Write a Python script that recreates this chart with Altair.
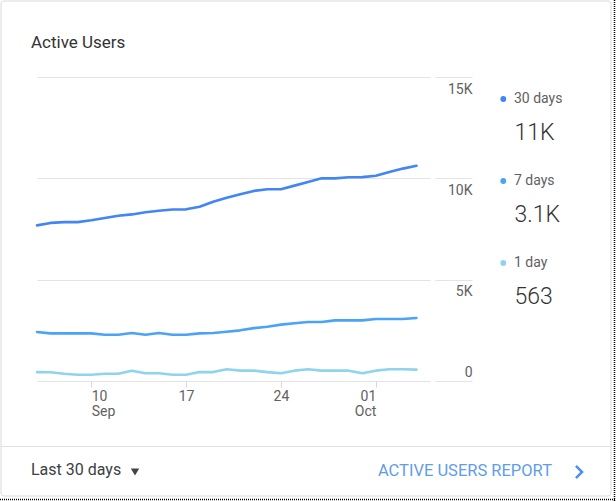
import altair as alt
import pandas as pd

# ---------------- data ----------------
dates = pd.date_range("2018-09-06", periods=29, freq="D").strftime("%Y-%m-%d").tolist()

users_30d = [7680, 7800, 7840, 7840, 7930, 8040, 8150, 8220, 8330, 8400,
             8460, 8470, 8600, 8840, 9040, 9220, 9380, 9460, 9460, 9640,
             9820, 10000, 10000, 10050, 10060, 10130, 10310, 10480, 10620]
users_7d = [2420, 2350, 2350, 2350, 2350, 2280, 2280, 2370, 2280, 2370,
            2280, 2280, 2350, 2370, 2430, 2500, 2610, 2680, 2780, 2850,
            2910, 2910, 2990, 2990, 2990, 3060, 3060, 3060, 3110]
users_1d = [440, 430, 360, 310, 310, 360, 360, 510, 380, 380,
            310, 310, 440, 440, 580, 510, 510, 440, 380, 510,
            580, 510, 510, 510, 380, 510, 580, 580, 563]

series_names = ["30 days", "7 days", "1 day"]
series_colors = ["#4285f4", "#4aa3f6", "#8fd4ee"]
legend_values = ["11K", "3.1K", "563"]
y_ticks = [0, 5000, 10000, 15000]

rows = []
for name, vals in zip(series_names, [users_30d, users_7d, users_1d]):
    for d, v in zip(dates, vals):
        rows.append({"date": d, "series": name, "users": v})
df = pd.DataFrame(rows)
legend_df = pd.DataFrame({"series": series_names, "value": legend_values})
one = pd.DataFrame({"k": [0]})

GRID = "#e3e3e3"
LABEL = "#616161"
FONT = "Roboto"

color_scale = alt.Scale(domain=series_names, range=series_colors)

x_enc = alt.X(
    "date:T",
    scale=alt.Scale(
        type="utc",
        domain=[alt.DateTime(year=2018, month=9, date=6, utc=True),
                alt.DateTime(year=2018, month=10, date=5, utc=True)],
    ),
    axis=alt.Axis(
        values=[alt.DateTime(year=2018, month=9, date=10, utc=True),
                alt.DateTime(year=2018, month=9, date=17, utc=True),
                alt.DateTime(year=2018, month=9, date=24, utc=True),
                alt.DateTime(year=2018, month=10, date=1, utc=True)],
        labelExpr="[utcFormat(datum.value, '%d'), (datum.index == 0 || utcdate(datum.value) == 1) ? utcFormat(datum.value, '%b') : '']",
        title=None, grid=False, domain=False,
        tickColor="#d9d9d9", tickSize=6, tickWidth=1,
        labelColor=LABEL, labelFontSize=14, labelFont=FONT,
        labelPadding=2, labelFlush=60, labelLineHeight=15,
        labelBaseline="top", labelOverlap=False,
    ),
)

y_enc = alt.Y(
    "users:Q",
    scale=alt.Scale(domain=[0, 15000], nice=False),
    axis=alt.Axis(
        orient="right", values=y_ticks, title=None, domain=False,
        labelExpr="datum.value == 0 ? '0' : format(datum.value / 1000, 'd') + 'K'",
        offset=5, tickSize=37, tickColor=GRID, tickWidth=1,
        gridColor=GRID, gridWidth=1,
        labelAlign="right", labelPadding=0, labelBaseline="alphabetic",
        labelOffset={"condition": {"test": "datum.value == 0", "value": -5}, "value": 16},
        labelFontSize=14, labelColor=LABEL, labelFont=FONT,
    ),
)

lines = alt.Chart(df).mark_line(strokeWidth=2.6, strokeCap="round", strokeJoin="round").encode(
    x=x_enc, y=y_enc,
    color=alt.Color("series:N", scale=color_scale, legend=None),
)

leg_y = alt.Y("series:N", scale=alt.Scale(type="point", domain=series_names, range=[22, 186], padding=0), axis=None)

dots = alt.Chart(legend_df).mark_circle(size=34, opacity=1).encode(
    x=alt.value(466.3), y=leg_y,
    color=alt.Color("series:N", scale=color_scale, legend=None),
)
names = alt.Chart(legend_df).mark_text(align="left", baseline="middle", fontSize=14, font=FONT, color=LABEL).encode(
    x=alt.value(477), y=leg_y, text="series:N"
)
vals = alt.Chart(legend_df).mark_text(align="left", baseline="middle", fontSize=23, font=FONT, fontWeight=300,
                                      color="#333333", dy=34).encode(
    x=alt.value(477.5), y=leg_y, text="value:N"
)

# ---------------- card decoration (plot origin at page 37,77) ----------------
card = alt.Chart(one).mark_rect(fillOpacity=0, stroke="#d9d9d9", strokeWidth=1, cornerRadius=3).encode(
    x=alt.value(-36), x2=alt.value(574), y=alt.value(-76), y2=alt.value(419)
)
sep = alt.Chart(one).mark_rule(color="#e0e0e0", strokeWidth=1).encode(
    x=alt.value(-36), x2=alt.value(574), y=alt.value(369.5)
)
foot_left = alt.Chart(one).mark_text(align="left", baseline="middle", fontSize=16, font=FONT, color="#3c4043").encode(
    x=alt.value(-6), y=alt.value(393), text=alt.value("Last 30 days")
)
caret = alt.Chart(one).mark_point(shape="triangle-down", filled=True, size=70, color="#444444", opacity=1).encode(
    x=alt.value(98), y=alt.value(395)
)
foot_right = alt.Chart(one).mark_text(align="right", baseline="middle", fontSize=16.5, font=FONT, color="#5f9deb").encode(
    x=alt.value(515), y=alt.value(394), text=alt.value("ACTIVE USERS REPORT")
)
chevron = alt.Chart(one).mark_point(shape="M-0.5,-1L0.5,0L-0.5,1", filled=False, size=150, strokeWidth=2.5,
                                    color="#4e8fe8", opacity=1).encode(
    x=alt.value(542), y=alt.value(395)
)
edge_r = alt.Chart(one).mark_rule(color="#000000", strokeWidth=1.5, strokeDash=[1, 1]).encode(
    x=alt.value(577.5), y=alt.value(-77), y2=alt.value(424)
)
edge_b = alt.Chart(one).mark_rule(color="#000000", strokeWidth=1.5, strokeDash=[1, 1]).encode(
    x=alt.value(-37), x2=alt.value(579), y=alt.value(422.5)
)

chart = alt.layer(
    card, sep, lines, dots, names, vals, foot_left, caret, foot_right, chevron, edge_r, edge_b
).resolve_scale(y="independent").properties(
    width=393, height=304,
    title=alt.TitleParams("Active Users", anchor="start", frame="group", dx=-6, offset=0, dy=66,
                          baseline="alphabetic", fontSize=17, font=FONT, fontWeight="normal", color="#333333"),
    autosize=alt.AutoSizeParams(type="none"),
    padding={"left": 37, "top": 77, "right": 186, "bottom": 120},
).configure(
    background="white", font=FONT, view=alt.ViewConfig(strokeWidth=0, stroke="transparent")
)

chart.save("out.html", embed_options={"renderer": "svg", "actions": False})
